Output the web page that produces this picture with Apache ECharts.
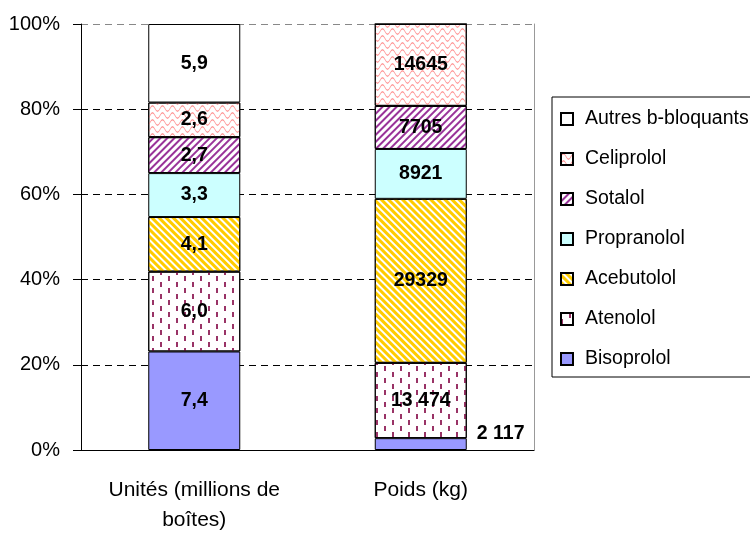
<!DOCTYPE html>
<html>
<head>
<meta charset="utf-8">
<script src="https://cdn.jsdelivr.net/npm/echarts@6/dist/echarts.min.js"></script>
<style>
  html, body { margin: 0; padding: 0; background: #fff; }
  #chart { width: 750px; height: 533px; }
</style>
</head>
<body>
<div id="chart"></div>
<script>
var categories = ['Unités (millions de\nboîtes)', 'Poids (kg)'];
var names = ['Bisoprolol', 'Atenolol', 'Acebutolol', 'Propranolol', 'Sotalol', 'Celiprolol', 'Autres b-bloquants'];
var unitValues = [7.4, 6.0, 4.1, 3.3, 2.7, 2.6, 5.9];
var poidsValues = [2117, 13474, 29329, 8921, 7705, 14645, 0];
var unitLabels = ['7,4', '6,0', '4,1', '3,3', '2,7', '2,6', '5,9'];
var poidsLabels = ['2 117', '13 474', '29329', '8921', '7705', '14645', ''];
var yTicks = [0, 20, 40, 60, 80, 100];

var FONT = '"Liberation Sans", Arial, sans-serif';

function sum(a) { var s = 0; a.forEach(function (v) { s += v; }); return s; }
var unitSum = sum(unitValues), poidsSum = sum(poidsValues);

// fill patterns (Excel-like hatches)
var styles = [
  { color: '#9999ff' },
  { color: '#ffffff', decal: { symbol: 'rect', symbolSize: 1, color: '#993366',
      dashArrayX: [[1.5, 13.5], [0, 7.5, 1.5, 6]], dashArrayY: [5, 0.5] } },
  { color: '#ffffff', decal: { symbol: 'rect', symbolSize: 1, color: '#ffcc00',
      dashArrayX: [1, 0], dashArrayY: [3, 2], rotation: Math.PI / 4 } },
  { color: '#ccffff' },
  { color: '#ffffff', decal: { symbol: 'rect', symbolSize: 1, color: '#993399',
      dashArrayX: [1, 0], dashArrayY: [2, 3], rotation: -Math.PI / 4 } },
  { color: '#ffffff', decal: { symbol: 'path://M0,3 Q2.5,-1 5,3 Q7.5,7 10,3 L10,4.2 Q7.5,8.2 5,4.2 Q2.5,0.2 0,4.2 Z',
      symbolSize: 1, symbolKeepAspect: false, color: '#ff9999',
      dashArrayX: [10, 0], dashArrayY: [7, 0] } },
  { color: '#ffffff' }
];

var series = names.map(function (name, i) {
  var st = styles[i];
  var itemStyle = { color: st.color, borderColor: '#000', borderWidth: 1 };
  if (st.decal) itemStyle.decal = st.decal;
  var d0 = { value: unitValues[i] / unitSum * 100 };
  var d1 = { value: poidsValues[i] / poidsSum * 100 };
  if (i === 0) {
    d1.label = { position: 'right', distance: 10, offset: [0, -10] };
  }
  return {
    name: name,
    type: 'bar',
    stack: 'total',
    barWidth: 92,
    itemStyle: itemStyle,
    label: {
      show: true,
      position: 'inside',
      color: '#000',
      fontFamily: FONT,
      fontWeight: 'bold',
      fontSize: 19.5,
      formatter: function (p) {
        return p.dataIndex === 0 ? unitLabels[i] : poidsLabels[i];
      }
    },
    data: [d0, d1]
  };
});

var chart = echarts.init(document.getElementById('chart'));
chart.setOption({
  animation: false,
  backgroundColor: '#fff',
  grid: { left: 81, right: 216, top: 24, bottom: 83, containLabel: false, outerBoundsMode: 'none' },
  legend: {
    data: names.slice().reverse(),
    orient: 'vertical',
    left: 552,
    top: 97,
    padding: [10, 4, 6, 8],
    itemWidth: 12,
    itemHeight: 12,
    itemGap: 16,
    icon: 'rect',
    borderColor: '#000',
    borderWidth: 1,
    textStyle: { color: '#000', fontFamily: FONT, fontSize: 19.5, lineHeight: 24, padding: [0, 0, 0, 7] }
  },
  xAxis: {
    type: 'category',
    data: categories,
    axisLine: { lineStyle: { color: '#000', width: 1 } },
    axisTick: { length: 8, lineStyle: { color: '#000' } },
    axisLabel: { color: '#000', fontFamily: FONT, fontSize: 21, lineHeight: 30, margin: 25 }
  },
  yAxis: [{
    type: 'value',
    min: 0,
    max: 100,
    interval: 20,
    axisLine: { show: true, lineStyle: { color: '#000', width: 1 } },
    axisTick: { show: true, length: 8, lineStyle: { color: '#000' } },
    axisLabel: { color: '#000', fontFamily: FONT, fontSize: 20, margin: 21,
      formatter: function (v) { return yTicks.indexOf(v) >= 0 ? v + '%' : ''; } },
    splitLine: { show: true, lineStyle: { type: [7, 5], width: 1,
      color: ['#000', '#000', '#000', '#000', '#000', '#888'] } }
  }, {
    type: 'value',
    position: 'right',
    min: 0,
    max: 100,
    interval: 20,
    axisLine: { show: true, lineStyle: { color: '#999', width: 1 } },
    axisTick: { show: false },
    axisLabel: { show: false },
    splitLine: { show: false }
  }],
  series: series
});
</script>
</body>
</html>
